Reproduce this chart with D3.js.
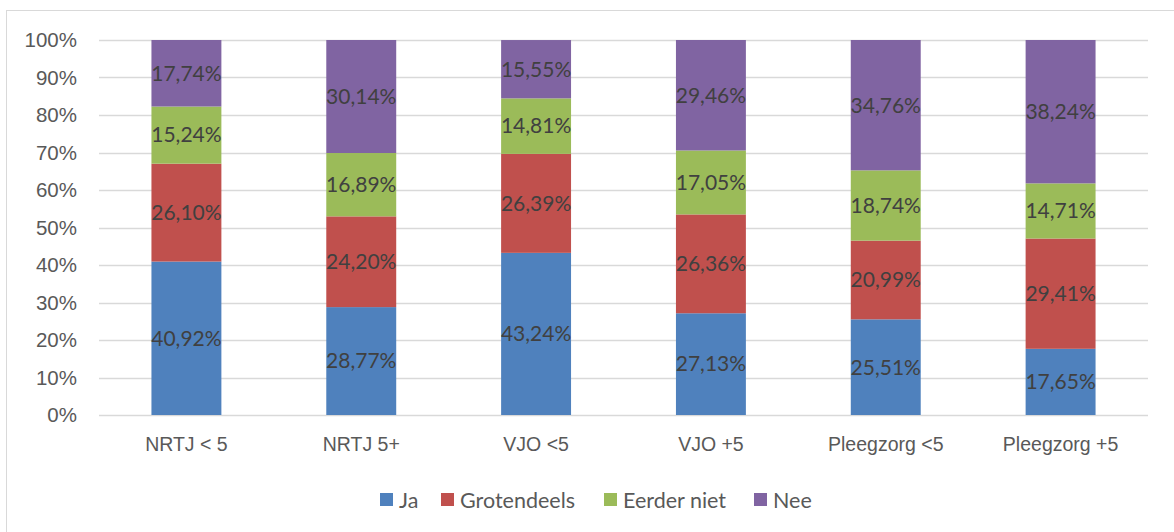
<!DOCTYPE html>
<html>
<head>
<meta charset="utf-8">
<script src="https://cdn.jsdelivr.net/npm/d3@7"></script>
<style>
  body { margin: 0; background: #fff; }
  svg { display: block; font-family: Lato, "Open Sans", sans-serif; }
</style>
</head>
<body>
<svg id="chart" width="1174" height="532"></svg>
<script>
// categories and series (percentages)
var categories = ["NRTJ < 5", "NRTJ 5+", "VJO <5", "VJO +5", "Pleegzorg <5", "Pleegzorg +5"];
var seriesNames = ["Ja", "Grotendeels", "Eerder niet", "Nee"];
var ja          = [40.92, 28.77, 43.24, 27.13, 25.51, 17.65];
var grotendeels = [26.10, 24.20, 26.39, 26.36, 20.99, 29.41];
var eerderNiet  = [15.24, 16.89, 14.81, 17.05, 18.74, 14.71];
var nee         = [17.74, 30.14, 15.55, 29.46, 34.76, 38.24];
var yTicks = [0, 10, 20, 30, 40, 50, 60, 70, 80, 90, 100];
var colors = ["#4F81BD", "#C0504D", "#9BBB59", "#8064A2"];

var svg = d3.select("#chart");

// outer chart border
svg.append("rect")
  .attr("x", 6.5).attr("y", 10.5)
  .attr("width", 1200).attr("height", 600)
  .attr("fill", "none")
  .attr("stroke", "#d9d9d9");

var margin = {left: 99, right: 26, top: 40, bottom: 117};
var plotWidth = 1174 - margin.left - margin.right;
var plotHeight = 532 - margin.top - margin.bottom;

var plot = svg.append("g")
  .attr("transform", "translate(" + margin.left + "," + margin.top + ")");

var x = d3.scaleBand()
  .domain(categories)
  .range([0, plotWidth])
  .paddingInner(0.6)
  .paddingOuter(0.3);

var y = d3.scaleLinear()
  .domain([0, 100])
  .range([plotHeight, 0]);

// gridlines
plot.append("g").selectAll("line")
  .data(yTicks)
  .enter().append("line")
  .attr("x1", 0).attr("x2", plotWidth)
  .attr("y1", function(d){ return Math.round(y(d)) + 0.5; })
  .attr("y2", function(d){ return Math.round(y(d)) + 0.5; })
  .attr("stroke", "#d9d9d9")
  .attr("stroke-width", 1.5);

// y axis labels
var yAxis = d3.axisLeft(y).tickValues(yTicks).tickSize(0).tickPadding(22)
  .tickFormat(function(d){ return d + "%"; });
var yG = plot.append("g").call(yAxis);
yG.select(".domain").remove();
yG.selectAll("text").attr("fill", "#595959").style("font-size", "20.5px");

// stack data
var rows = categories.map(function(c, i){
  return {cat: c, "Ja": ja[i], "Grotendeels": grotendeels[i], "Eerder niet": eerderNiet[i], "Nee": nee[i]};
});
var stacked = d3.stack().keys(seriesNames)(rows);

var layers = plot.selectAll("g.layer")
  .data(stacked)
  .enter().append("g")
  .attr("class", "layer")
  .attr("fill", function(d, i){ return colors[i]; });

layers.selectAll("rect")
  .data(function(d){ return d; })
  .enter().append("rect")
  .attr("x", function(d){ return x(d.data.cat); })
  .attr("width", x.bandwidth())
  .attr("y", function(d){ return y(Math.min(d[1], 100)); })
  .attr("height", function(d){ return y(d[0]) - y(Math.min(d[1], 100)); });

// data labels
layers.selectAll("text")
  .data(function(d){ return d.map(function(p){ p.key = d.key; return p; }); })
  .enter().append("text")
  .attr("x", function(d){ return x(d.data.cat) + x.bandwidth() / 2; })
  .attr("y", function(d){ return (y(d[0]) + y(Math.min(d[1], 100))) / 2; })
  .attr("dy", "0.35em")
  .attr("text-anchor", "middle")
  .attr("fill", "#404040")
  .style("font-size", "21px")
  .text(function(d){ return d.data[d.key].toFixed(2).replace(".", ",") + "%"; });

// x axis labels
var xAxis = d3.axisBottom(x).tickSize(0).tickPadding(22);
var xG = plot.append("g").attr("transform", "translate(0," + plotHeight + ")").call(xAxis);
xG.select(".domain").remove();
xG.selectAll("text").attr("fill", "#595959").style("font-size", "19.5px");

// legend
var legendX = [380, 441, 604, 754];
var legend = svg.append("g").selectAll("g")
  .data(seriesNames)
  .enter().append("g")
  .attr("transform", function(d, i){ return "translate(" + legendX[i] + ",493)"; });
legend.append("rect")
  .attr("width", 13).attr("height", 13)
  .attr("fill", function(d, i){ return colors[i]; });
legend.append("text")
  .attr("x", 19).attr("y", 7).attr("dy", "0.35em")
  .attr("fill", "#595959")
  .style("font-size", "21.5px")
  .text(function(d){ return d; });
</script>
</body>
</html>
